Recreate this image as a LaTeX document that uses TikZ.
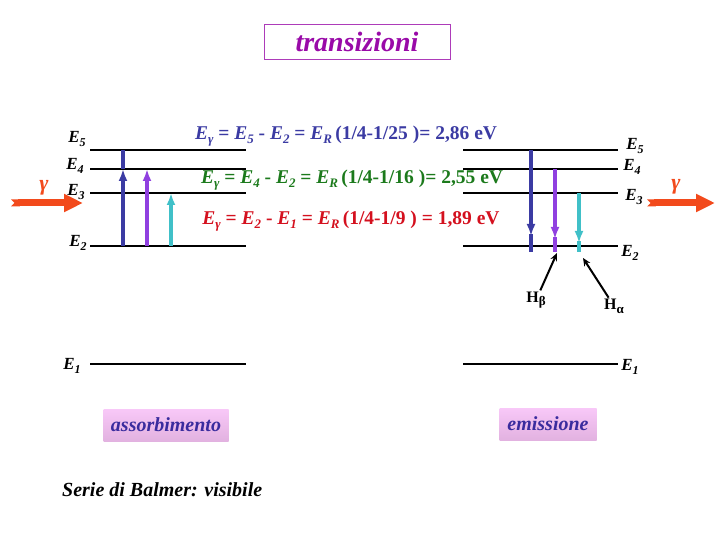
\documentclass[tikz,border=0pt]{standalone}
\usepackage{fontspec}
\setmainfont{Liberation Serif}
\usetikzlibrary{arrows.meta,positioning,calc}
\definecolor{trblue}{HTML}{3B3BA3}
\definecolor{trviolet}{HTML}{9040E0}
\definecolor{trcyan}{HTML}{40C0C8}
\definecolor{eqgreen}{HTML}{1C7A1C}
\definecolor{eqred}{HTML}{D4101E}
\definecolor{photon}{HTML}{F24A1C}
\definecolor{titlepurple}{HTML}{990AA8}
\definecolor{boxpink}{HTML}{F8C8F8}
\definecolor{boxpinkdk}{HTML}{E2B2E0}
\definecolor{boxtext}{HTML}{3A2C9E}
\newcommand{\Esub}[1]{\textit{E}\raisebox{-0.45ex}{\fontsize{13}{13}\selectfont\textit{#1}}}
\newcommand{\Elev}[1]{\textit{E}\raisebox{-0.5ex}{\fontsize{12}{12}\selectfont\textit{#1}}}
\newcommand{\Hsub}[1]{H\raisebox{-0.5ex}{\fontsize{13}{13}\selectfont #1}}
\tikzset{
  level/.style={line width=2.8pt},
  lvllabel/.style={font=\fontsize{17}{17}\selectfont\bfseries,inner sep=0pt},
  eqn/.style={font=\fontsize{19.5}{19.5}\selectfont\bfseries,inner sep=0pt},
  trans/.style={line width=3.8pt},
  transtip/.style={-{Latex[length=12pt,width=9pt]}},
  photonarrow/.style={photon,line width=7pt,{Triangle Cap[reversed]}-{Triangle[length=19pt,width=17pt]}},
  photonlabel/.style={text=photon,font=\fontsize{22}{22}\selectfont\bfseries\itshape,inner sep=0pt},
  hlabel/.style={font=\fontsize{16}{16}\selectfont\bfseries,inner sep=1pt},
  pointer/.style={-{Stealth[length=8pt,width=7pt]},line width=2pt},
  kindbox/.style={top color=boxpink,bottom color=boxpinkdk,text=boxtext,minimum height=32pt,font=\fontsize{20}{20}\selectfont\bfseries\itshape}
}
\begin{document}
\begin{tikzpicture}[x=1pt,y=-1pt]
  \useasboundingbox (0,0) rectangle (720,540);
  \node[draw=titlepurple!80,line width=0.8pt,minimum width=186pt,minimum height=35pt,text=titlepurple,font=\fontsize{28}{28}\selectfont\bfseries\itshape] (title) at (357,42) {transizioni};
  % livelli
  \foreach \n/\y in {5/150,4/169,3/193,2/246,1/364}{
    \coordinate (a\n w) at (90,\y); \coordinate (a\n e) at (246,\y);
    \coordinate (e\n w) at (463,\y); \coordinate (e\n e) at (618,\y);
    \draw[level] (a\n w) -- (a\n e);
    \draw[level] (e\n w) -- (e\n e);
  }
  \node[lvllabel] (la5) at (77,139) {\Elev{5}};
  \node[lvllabel] (la4) at (75,166) {\Elev{4}};
  \node[lvllabel] (la3) at (76,192) {\Elev{3}};
  \node[lvllabel] (la2) at (78,243) {\Elev{2}};
  \node[lvllabel] (la1) at (72,366) {\Elev{1}};
  \node[lvllabel] (le5) at (635,146) {\Elev{5}};
  \node[lvllabel] (le4) at (632,167) {\Elev{4}};
  \node[lvllabel] (le3) at (634,197) {\Elev{3}};
  \node[lvllabel] (le2) at (630,253) {\Elev{2}};
  \node[lvllabel] (le1) at (630,367) {\Elev{1}};
  % transizioni
  \coordinate (xab) at (123,0); \coordinate (xav) at (147,0); \coordinate (xac) at (171,0);
  \coordinate (xeb) at (531,0); \coordinate (xev) at (555,0); \coordinate (xec) at (579,0);
  \draw[trans,trblue,transtip] (xab|-a2w) -- (xab|-a4w);
  \draw[trans,trblue] (xab|-a4w) -- (xab|-a5w);
  \draw[trans,trviolet,transtip] (xav|-a2w) -- (xav|-a4w);
  \draw[trans,trcyan,transtip] (xac|-a2w) -- (xac|-a3w);
  \draw[trans,trblue,transtip] (xeb|-e5w) -- ($(xeb|-e2w)+(0,-10)$);
  \draw[trans,trblue] ($(xeb|-e2w)+(0,-12)$) -- ($(xeb|-e2w)+(0,6)$);
  \draw[trans,trviolet,transtip] (xev|-e4w) -- ($(xev|-e2w)+(0,-7)$);
  \draw[trans,trviolet] ($(xev|-e2w)+(0,-9)$) -- ($(xev|-e2w)+(0,6)$);
  \draw[trans,trcyan,transtip] (xec|-e3w) -- ($(xec|-e2w)+(0,-3)$);
  \draw[trans,trcyan] ($(xec|-e2w)+(0,-5)$) -- ($(xec|-e2w)+(0,6)$);
  % fotoni
  \coordinate (gin) at (11,203); \coordinate (gabs) at (83,203);
  \coordinate (gem) at (647,203); \coordinate (gout) at (715,203);
  \draw[photonarrow] (gin) -- (gabs);
  \draw[photonarrow] (gem) -- (gout);
  \node[photonlabel] (gl) at (44,188) {γ};
  \node[photonlabel] (gr) at (676,187) {γ};
  % energie
  \node[eqn,text=trblue] (eq52) at (346,136) {\Esub{γ} = \Esub{5} - \Esub{2} = \Esub{R}\,(1/4-1/25 )= 2,86 eV};
  \node[eqn,text=eqgreen] (eq42) at (352,180) {\Esub{γ} = \Esub{4} - \Esub{2} = \Esub{R}\,(1/4-1/16 )= 2,55 eV};
  \node[eqn,text=eqred] (eq21) at (351,221) {\Esub{γ} = \Esub{2} - \Esub{1} = \Esub{R}\,(1/4-1/9 ) = 1,89 eV};
  % righe
  \node[hlabel] (hb) at (536,300) {\Hsub{β}};
  \node[hlabel] (ha) at (614,306) {\Hsub{α}};
  \coordinate (tb) at (557,253); \coordinate (ta) at (583,258);
  \draw[pointer] (hb) -- (tb);
  \draw[pointer] (ha) -- (ta);
  % didascalie
  \node[kindbox,minimum width=125pt] (abs) at (166,425) {assorbimento};
  \node[kindbox,minimum width=97pt] (emi) at (548,424) {emissione};
  \node[font=\fontsize{20}{20}\selectfont\bfseries\itshape,anchor=west,inner sep=0pt] (balmer) at (62,490) {Serie di Balmer: visibile};
\end{tikzpicture}
\end{document}
